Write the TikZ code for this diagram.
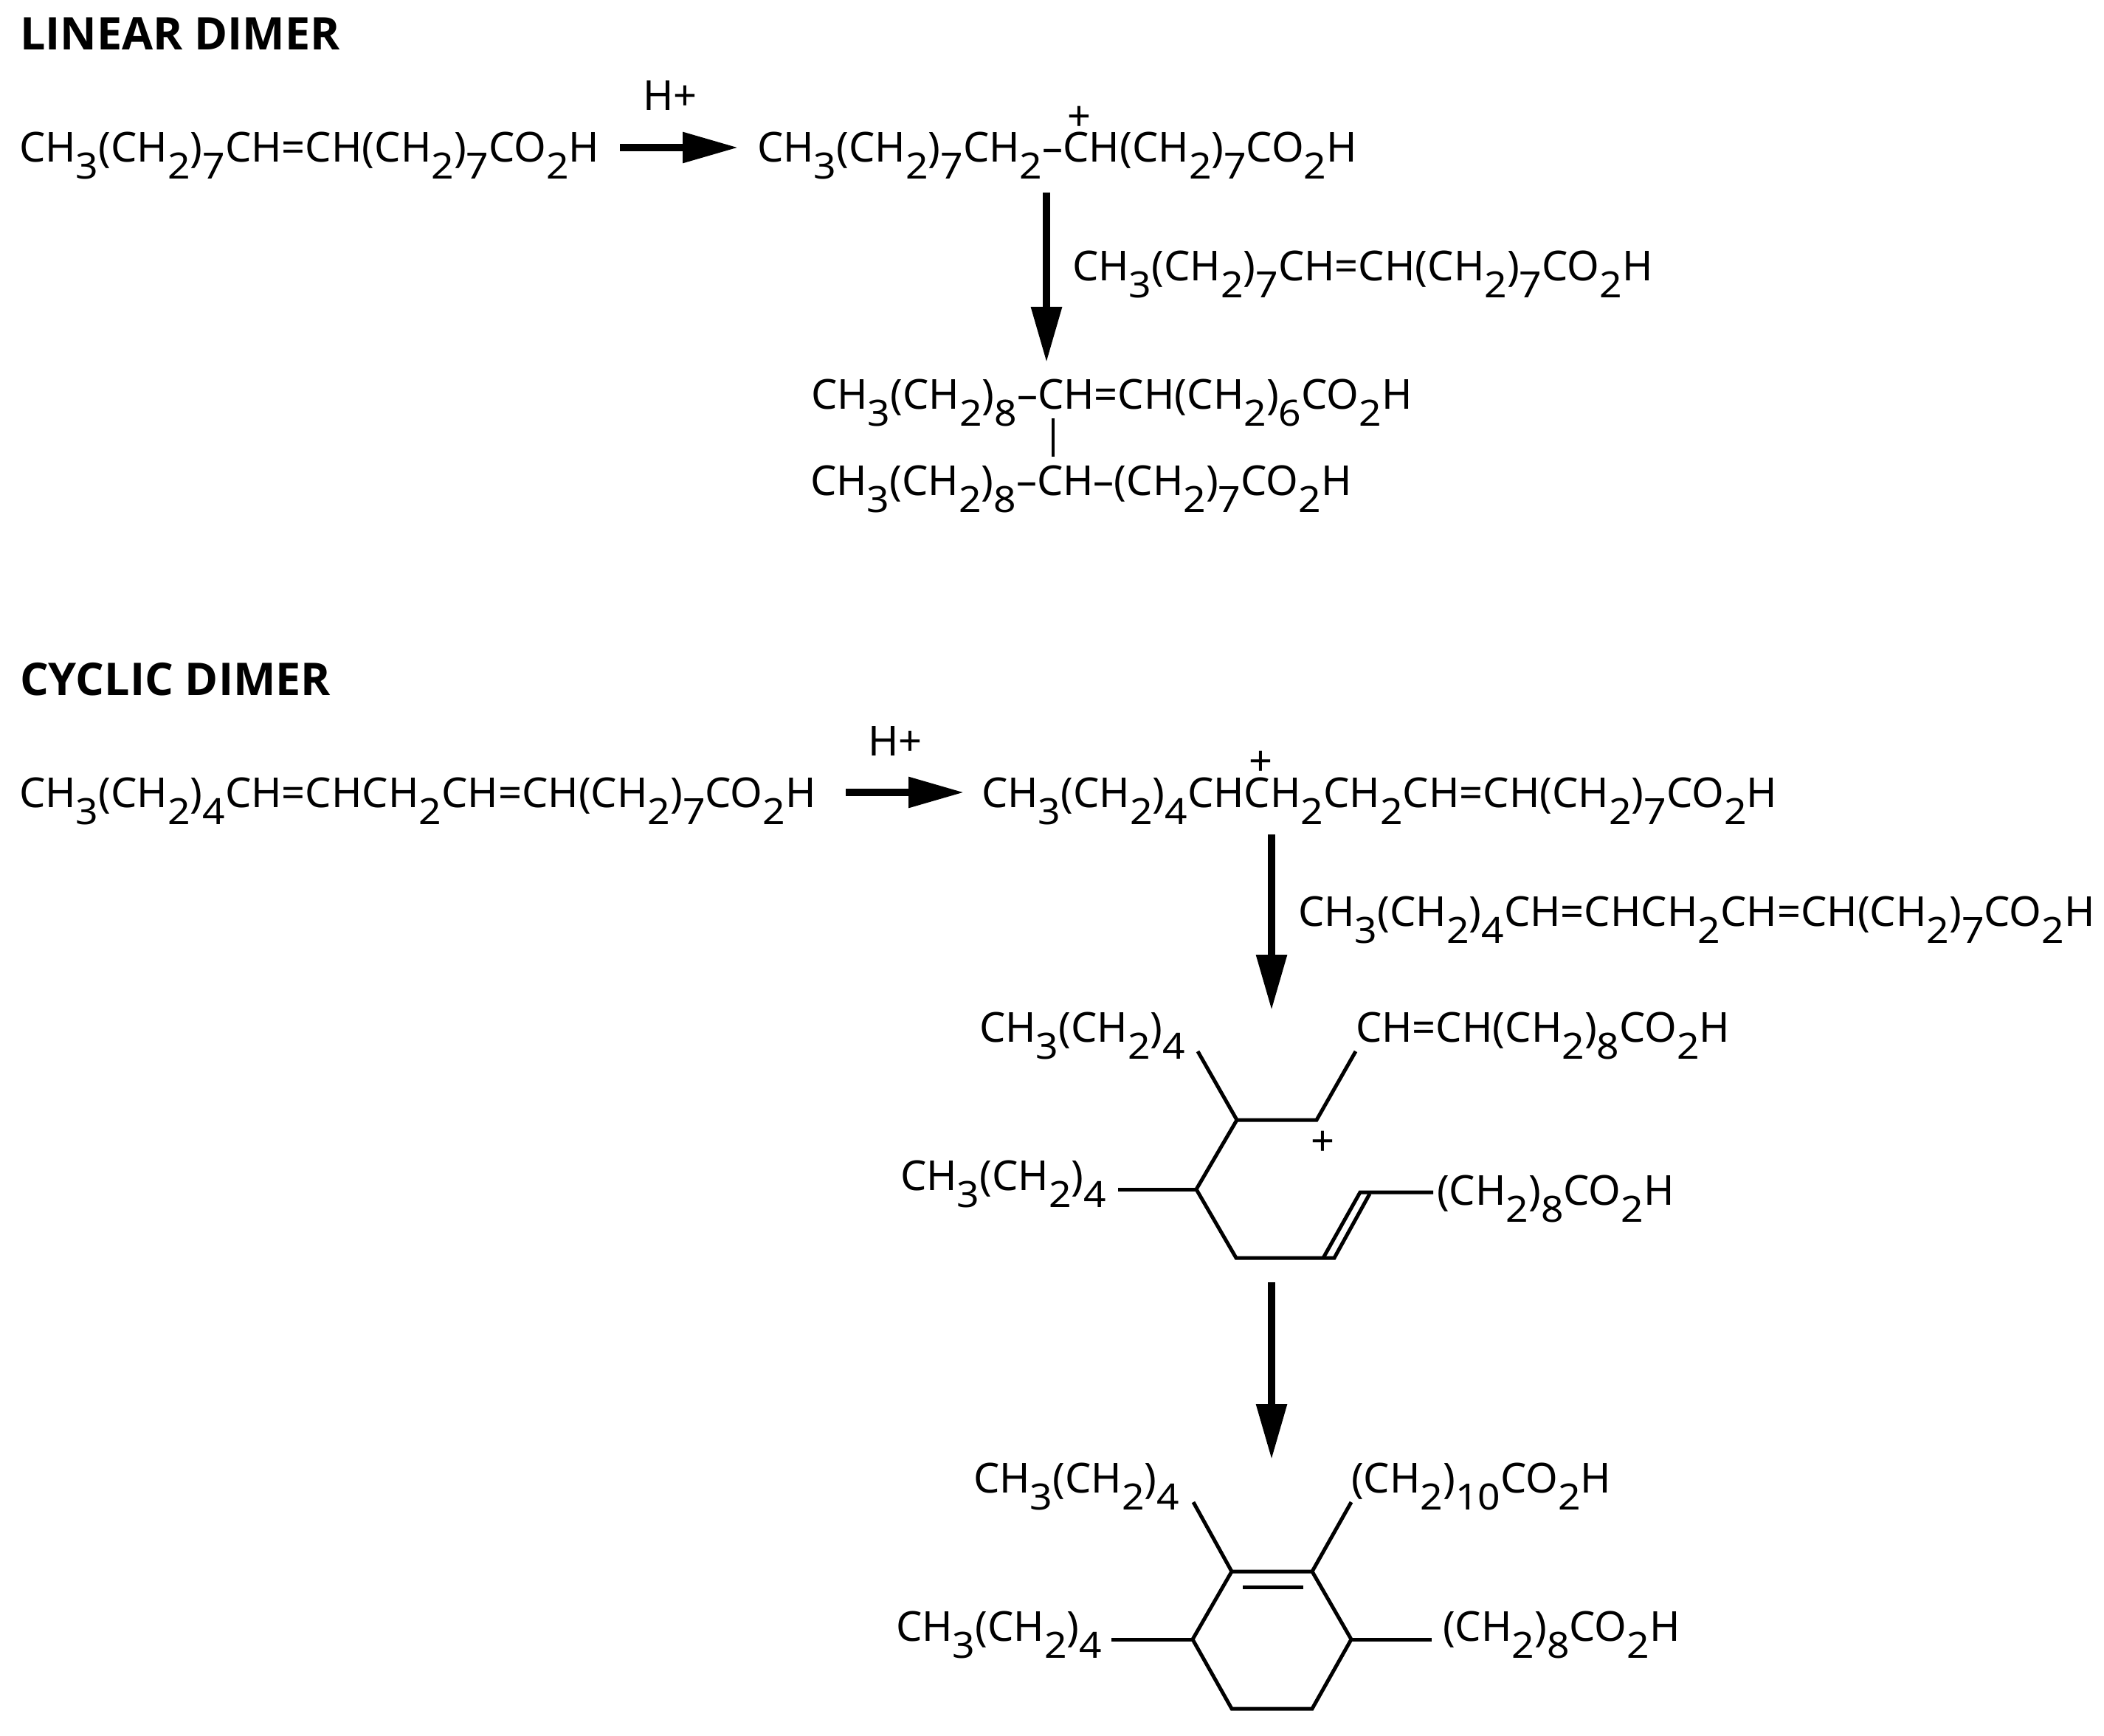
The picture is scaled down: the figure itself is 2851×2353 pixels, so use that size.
\documentclass[tikz,border=0pt]{standalone}
\usepackage{fontspec}
\usepackage{graphicx}
\setmainfont{Noto Sans}
\newfontfamily\headfont{Open Sans Bold}
\usetikzlibrary{arrows.meta}
\newcommand{\dn}[1]{\raisebox{-11.5pt}{\scalebox{1.09}[1]{\fontsize{24.5pt}{28pt}\selectfont #1}}}
\tikzset{
  chem/.style={anchor=base west,inner sep=0pt,outer sep=0pt,font=\fontsize{28pt}{32pt}\selectfont},
  heading/.style={anchor=base west,inner sep=0pt,outer sep=0pt,font=\headfont\fontsize{30.5pt}{34pt}\selectfont},
  plus/.style={anchor=center,inner sep=0pt,outer sep=0pt,font=\fontsize{28pt}{32pt}\selectfont},
  bond/.style={line width=2.5pt,line join=miter,black},
  thinbar/.style={line width=1.9pt,black},
  react/.style={line width=4.6pt,black,-{Triangle[length=37.5pt,width=20pt]}},
}
\begin{document}
\begin{tikzpicture}[x=0.5pt,y=-0.5pt]
\useasboundingbox (0,0) rectangle (2851,2353);
% headings
\node[heading] (h1) at (27,68) {LINEAR DIMER};
\node[heading] (h2) at (27,942) {CYCLIC DIMER};
% linear dimer
\node[chem] (a1) at (26,220) {CH\dn{3}(CH\dn{2})\dn{7}CH=CH(CH\dn{2})\dn{7}CO\dn{2}H};
\node[chem] (hp1) at (871,150) {H+};
\node[chem] (a2) at (1026,220) {CH\dn{3}(CH\dn{2})\dn{7}CH\dn{2}–CH(CH\dn{2})\dn{7}CO\dn{2}H};
\node[plus] (p1) at (1462,161) {+};
\node[chem] (a3) at (1453,381) {CH\dn{3}(CH\dn{2})\dn{7}CH=CH(CH\dn{2})\dn{7}CO\dn{2}H};
\node[chem] (a4) at (1099,555) {CH\dn{3}(CH\dn{2})\dn{8}–CH=CH(CH\dn{2})\dn{6}CO\dn{2}H};
\node[chem] (a5) at (1098,671) {CH\dn{3}(CH\dn{2})\dn{8}–CH–(CH\dn{2})\dn{7}CO\dn{2}H};
\coordinate (ra1) at (840,200); \coordinate (ra2) at (1000,200);
\draw[react] (ra1) -- (ra2);
\coordinate (rb1) at (1418,261); \coordinate (rb2) at (1418,491);
\draw[react] (rb1) -- (rb2);
\coordinate (v1) at (1427,567); \coordinate (v2) at (1427,619);
\draw[thinbar] (v1) -- (v2);
% cyclic dimer
\node[chem] (b1) at (26,1094) {CH\dn{3}(CH\dn{2})\dn{4}CH=CHCH\dn{2}CH=CH(CH\dn{2})\dn{7}CO\dn{2}H};
\node[chem] (hp2) at (1176,1024) {H+};
\node[chem] (b2) at (1330,1094) {CH\dn{3}(CH\dn{2})\dn{4}CHCH\dn{2}CH\dn{2}CH=CH(CH\dn{2})\dn{7}CO\dn{2}H};
\node[plus] (p2) at (1708,1035) {+};
\node[chem] (b3) at (1759,1255) {CH\dn{3}(CH\dn{2})\dn{4}CH=CHCH\dn{2}CH=CH(CH\dn{2})\dn{7}CO\dn{2}H};
\coordinate (rc1) at (1146,1074); \coordinate (rc2) at (1306,1074);
\draw[react] (rc1) -- (rc2);
\coordinate (rd1) at (1723,1131); \coordinate (rd2) at (1723,1369);
\draw[react] (rd1) -- (rd2);
% intermediate
\node[chem] (c1) at (1327,1412) {CH\dn{3}(CH\dn{2})\dn{4}};
\node[chem] (c2) at (1837,1412) {CH=CH(CH\dn{2})\dn{8}CO\dn{2}H};
\node[chem] (c3) at (1220,1613) {CH\dn{3}(CH\dn{2})\dn{4}};
\node[chem] (c4) at (1947,1633) {(CH\dn{2})\dn{8}CO\dn{2}H};
\node[plus] (p3) at (1792,1550) {+};
\coordinate (A) at (1623,1425); \coordinate (B) at (1676,1518);
\coordinate (C) at (1784,1518); \coordinate (D) at (1837,1425);
\coordinate (E) at (1621,1612); \coordinate (E1) at (1515,1612);
\coordinate (F) at (1675,1705); \coordinate (G) at (1808,1705);
\coordinate (G1) at (1793,1705); \coordinate (H) at (1843,1616);
\coordinate (H1) at (1856,1618); \coordinate (I) at (1942,1616);
\draw[bond] (A) -- (B) -- (C) -- (D);
\draw[bond] (B) -- (E) -- (F) -- (G) -- (H1);
\draw[bond] (E1) -- (E);
\draw[bond] (G1) -- (H) -- (I);
\coordinate (re1) at (1723,1738); \coordinate (re2) at (1723,1978);
\draw[react] (re1) -- (re2);
% product
\node[chem] (d1) at (1319,2023) {CH\dn{3}(CH\dn{2})\dn{4}};
\node[chem] (d2) at (1831,2023) {(CH\dn{2})\dn{10}CO\dn{2}H};
\node[chem] (d3) at (1214,2224) {CH\dn{3}(CH\dn{2})\dn{4}};
\node[chem] (d4) at (1955,2224) {(CH\dn{2})\dn{8}CO\dn{2}H};
\coordinate (R1) at (1669,2130); \coordinate (R2) at (1778,2130);
\coordinate (R3) at (1831,2222); \coordinate (R4) at (1778,2316);
\coordinate (R5) at (1669,2316); \coordinate (R6) at (1616,2222);
\coordinate (S1) at (1617,2036); \coordinate (S2) at (1831,2036);
\coordinate (S3) at (1940,2222); \coordinate (S6) at (1506,2222);
\coordinate (N1) at (1684,2151); \coordinate (N2) at (1766,2151);
\draw[bond] (R1) -- (R2) -- (R3) -- (R4) -- (R5) -- (R6) -- cycle;
\draw[bond] (R1) -- (S1);
\draw[bond] (R2) -- (S2);
\draw[bond] (R3) -- (S3);
\draw[bond] (R6) -- (S6);
\draw[bond] (N1) -- (N2);
\end{tikzpicture}
\end{document}
